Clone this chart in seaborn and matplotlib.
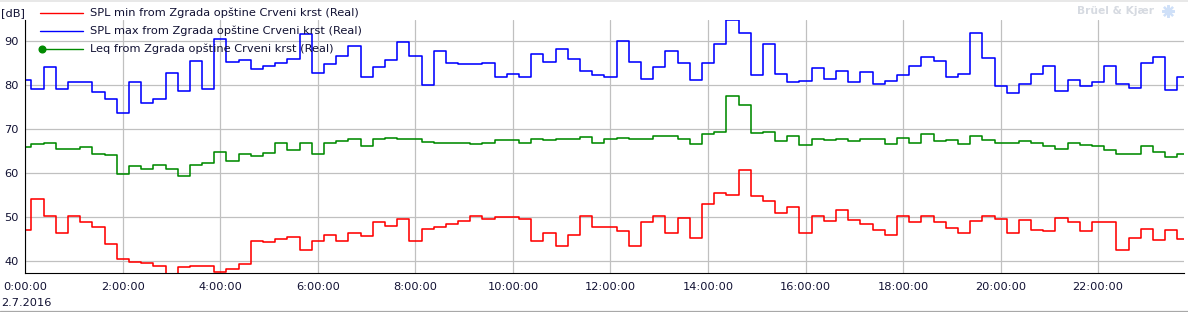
import numpy as np
import pandas as pd
import matplotlib
matplotlib.use("Agg")
import matplotlib.pyplot as plt
import matplotlib.dates as mdates
from matplotlib.lines import Line2D
import seaborn as sns

# 15 minute values, 2.7.2016 00:00 - 23:45
spl_min = [
    47.1, 54.1, 50.4, 46.4, 50.4, 48.9, 47.9, 44.0, 40.5, 39.8,
    39.5, 39.0, 36.5, 38.8, 38.9, 38.9, 37.6, 38.2, 39.3, 44.5,
    44.3, 45.0, 45.5, 42.6, 44.6, 45.9, 44.5, 46.4, 45.7, 48.9,
    48.0, 49.5, 44.6, 47.4, 47.7, 48.4, 49.1, 50.4, 49.5, 50.0,
    50.0, 49.5, 44.6, 46.4, 43.4, 45.9, 50.4, 47.7, 47.7, 46.8,
    43.4, 48.9, 50.4, 46.4, 49.8, 45.2, 53.0, 55.5, 55.0, 60.7,
    54.8, 53.6, 50.9, 52.4, 46.4, 50.2, 49.1, 51.6, 49.3, 48.4,
    47.0, 45.9, 50.4, 48.9, 50.4, 48.9, 47.5, 46.4, 49.1, 50.2,
    49.5, 46.4, 49.3, 47.0, 46.8, 49.8, 48.9, 46.8, 48.9, 48.9,
    42.5, 45.2, 47.3, 44.8, 47.0, 45.0,
]
spl_max = [
    81.1, 79.2, 84.1, 79.1, 80.7, 80.7, 78.4, 76.8, 73.6, 80.7,
    75.9, 76.8, 82.7, 78.7, 85.5, 79.1, 90.5, 85.2, 85.7, 83.6,
    84.3, 85.0, 85.9, 91.6, 82.8, 84.8, 86.7, 88.9, 81.8, 84.1,
    85.7, 89.8, 86.6, 80.0, 87.7, 85.1, 84.8, 84.8, 85.1, 81.8,
    82.5, 81.8, 87.1, 85.2, 88.2, 85.9, 83.3, 82.3, 81.8, 90.0,
    85.2, 81.4, 84.1, 87.7, 85.1, 81.1, 85.1, 89.5, 94.8, 91.8,
    82.3, 89.4, 82.5, 80.7, 80.9, 83.9, 81.4, 83.2, 80.7, 83.0,
    80.2, 80.9, 82.3, 84.5, 86.4, 85.5, 82.0, 82.5, 92.0, 86.1,
    79.8, 78.2, 80.2, 82.6, 84.5, 78.6, 81.1, 79.8, 80.7, 84.3,
    80.2, 79.3, 85.0, 86.4, 78.9, 82.0,
]
leq = [
    66.0, 66.6, 66.8, 65.5, 65.5, 65.9, 64.3, 64.1, 59.8, 61.7,
    60.9, 61.8, 60.9, 59.5, 62.0, 62.3, 64.8, 62.7, 64.3, 63.9,
    64.6, 67.0, 65.2, 66.8, 64.5, 66.8, 67.3, 67.7, 66.1, 67.7,
    68.0, 67.8, 67.7, 67.1, 66.8, 66.8, 66.8, 66.6, 66.8, 67.5,
    67.5, 67.0, 67.7, 67.5, 67.7, 67.7, 68.2, 66.8, 67.7, 68.0,
    67.7, 67.7, 68.4, 68.4, 67.7, 66.6, 68.9, 69.3, 77.5, 75.5,
    69.1, 69.5, 67.3, 68.4, 66.4, 67.7, 67.5, 67.7, 67.3, 67.7,
    67.7, 66.6, 68.0, 66.8, 68.9, 67.3, 67.5, 66.6, 68.4, 67.5,
    66.8, 66.8, 67.3, 66.8, 66.1, 65.5, 66.8, 66.4, 66.1, 65.2,
    64.3, 64.5, 66.1, 64.8, 63.7, 64.3,
]

labels = [
    "SPL min from Zgrada opštine Crveni krst (Real)",
    "SPL max from Zgrada opštine Crveni krst (Real)",
    "Leq from Zgrada opštine Crveni krst (Real)",
]
colors = ["#ff0000", "#0000ff", "#008a00"]

times = pd.date_range("2016-07-02 00:00", periods=len(leq), freq="15min")
df = pd.DataFrame({"time": times, "min": spl_min, "max": spl_max, "leq": leq})

sns.set_style("white")
plt.rcParams["font.family"] = ["DejaVu Sans"]
txt_color = "#111133"
fs = 8.2

W, H = 1188, 312
fig = plt.figure(figsize=(W / 100, H / 100), dpi=100)
ax = fig.add_axes([25.3 / W, 1 - 273.3 / H, (1183.5 - 25.3) / W, (273.3 - 20) / H])

# draw order: max, leq, min
for col, c in [("max", colors[1]), ("leq", colors[2]), ("min", colors[0])]:
    sns.lineplot(data=df, x="time", y=col, ax=ax, color=c, lw=1.15,
                 drawstyle="steps-mid", legend=False)

ax.set_xlim(times[0], times[-1])
ax.set_ylim(37.27, 94.85)
ax.set_xlabel("")
ax.set_ylabel("")

ax.set_yticks([40, 50, 60, 70, 80, 90])
ax.xaxis.set_major_locator(mdates.HourLocator(interval=2))
ax.xaxis.set_minor_locator(mdates.MinuteLocator(byminute=[0, 20, 40]))
ax.xaxis.set_major_formatter(
    plt.FuncFormatter(lambda v, p: "%d:%02d:00" % (mdates.num2date(v).hour, mdates.num2date(v).minute))
)

ax.grid(True, which="major", color="#c0c0c0", lw=0.9)
ax.tick_params(axis="both", which="major", direction="out", length=3.2, width=0.8,
               color="black", labelsize=fs, labelcolor=txt_color)
ax.tick_params(axis="x", which="major", pad=3)
ax.tick_params(axis="y", which="major", pad=1.5)
ax.tick_params(axis="x", which="minor", direction="out", length=2.5, width=0.8, color="black")
ax.tick_params(axis="y", which="minor", length=0)

for s in ["top", "right"]:
    ax.spines[s].set_visible(False)
for s in ["left", "bottom"]:
    ax.spines[s].set_color("black")
    ax.spines[s].set_linewidth(0.8)

# legend drawn at top left
def fx(px):
    return px / W

def fy(py):
    return 1 - py / H

for i, (lab, c) in enumerate(zip(labels, colors)):
    yy = 12.7 + 18 * i
    fig.add_artist(Line2D([fx(40), fx(83)], [fy(yy), fy(yy)], color=c, lw=1.0))
    if i == 2:
        fig.add_artist(Line2D([fx(41.5)], [fy(yy)], marker="o", ms=4.8, color=c))
    fig.text(fx(89.5), fy(yy), lab, fontsize=fs, color=txt_color, va="center", ha="left")

fig.text(fx(1), fy(13), "[dB]", fontsize=fs, color=txt_color, va="center", ha="left")
fig.text(fx(1), fy(303), "2.7.2016", fontsize=fs, color=txt_color, va="center", ha="left")

# watermark
fig.text(fx(1154), fy(11), "Brüel & Kjær", fontsize=7.7, fontweight="bold",
         color="#d6dae1", va="center", ha="right")
fig.add_artist(Line2D([fx(1168)], [fy(11)], marker=(8, 2, 0), ms=9, mew=1.6, color="#cfe0f8"))

# window border lines
fig.add_artist(Line2D([0, 1], [fy(1), fy(1)], color="#e4e4e4", lw=1.2))
fig.add_artist(Line2D([0, 1], [fy(311), fy(311)], color="#a8a8a8", lw=0.9))

fig.savefig("out.png", dpi=100)
